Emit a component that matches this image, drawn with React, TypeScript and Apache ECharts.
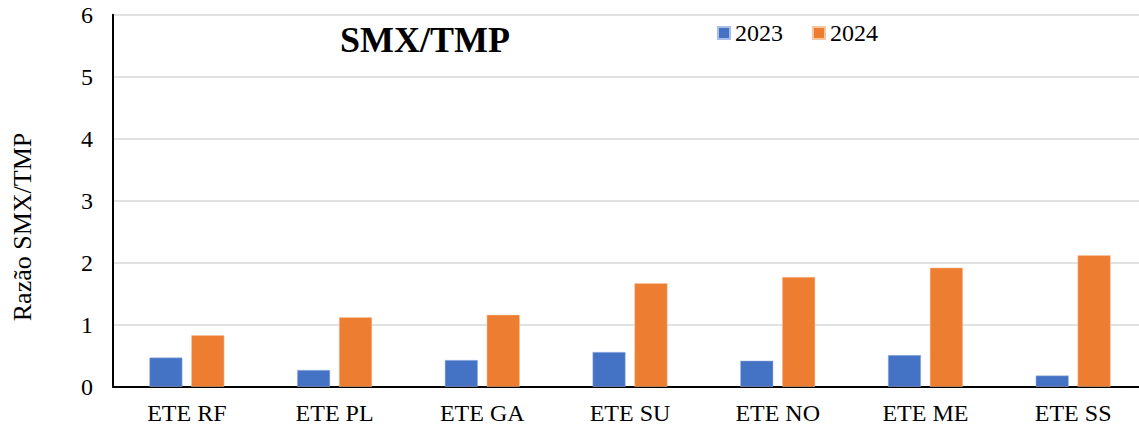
import React, { useEffect, useRef } from "react";
import * as echarts from "echarts";

// Wastewater treatment plants (ETE) and SMX/TMP ratio per year
const categories = ["ETE RF", "ETE PL", "ETE GA", "ETE SU", "ETE NO", "ETE ME", "ETE SS"];
const values2023 = [0.47, 0.27, 0.43, 0.56, 0.42, 0.51, 0.18];
const values2024 = [0.83, 1.12, 1.16, 1.67, 1.77, 1.92, 2.12];
const yTicks = { min: 0, max: 6, interval: 1 };

const SERIF = "Times New Roman";

export default function App() {
  const ref = useRef<HTMLDivElement>(null);

  useEffect(() => {
    if (!ref.current) return;
    const chart = echarts.init(ref.current, undefined, { renderer: "svg" });
    chart.setOption({
      animation: false,
      backgroundColor: "#ffffff",
      title: {
        text: "SMX/TMP",
        left: 340,
        top: 22,
        padding: 0,
        textStyle: { fontFamily: SERIF, fontSize: 36, fontWeight: "bold", color: "#000" },
      },
      legend: {
        left: 717,
        top: 21,
        padding: 0,
        itemWidth: 12,
        itemHeight: 12,
        itemGap: 29,
        icon: "rect",
        textStyle: { fontFamily: SERIF, fontSize: 24, color: "#000" },
        data: ["2023", "2024"],
      },
      // plot area runs slightly past the visible right edge
      grid: { left: 113, right: 0, top: 14.7, bottom: 45.3, containLabel: false },
      xAxis: {
        type: "category",
        data: categories,
        axisLine: { show: true, lineStyle: { color: "#000", width: 2 } },
        axisTick: { show: false },
        axisLabel: { fontFamily: SERIF, fontSize: 24, color: "#000", margin: 14, interval: 0 },
      },
      yAxis: {
        type: "value",
        min: yTicks.min,
        max: yTicks.max,
        interval: yTicks.interval,
        axisLine: { show: true, lineStyle: { color: "#000", width: 2 } },
        axisTick: { show: false },
        axisLabel: { fontFamily: SERIF, fontSize: 24, color: "#000", margin: 20 },
        splitLine: { show: true, lineStyle: { color: "#d9d9d9", width: 1.5 } },
      },
      graphic: [
        {
          type: "text",
          x: 22,
          y: 227,
          rotation: Math.PI / 2,
          style: {
            text: "Razão SMX/TMP",
            fontFamily: SERIF,
            fontSize: 26,
            fill: "#000",
            textAlign: "center",
            textVerticalAlign: "middle",
          },
        },
      ],
      series: [
        {
          name: "2023",
          type: "bar",
          data: values2023,
          barWidth: 33,
          barGap: "27%",
          itemStyle: { color: "#4472C4", borderColor: "#a9bde6", borderWidth: 0.5 },
        },
        {
          name: "2024",
          type: "bar",
          data: values2024,
          barWidth: 33,
          barGap: "27%",
          itemStyle: { color: "#ED7D31", borderColor: "#f7c4a0", borderWidth: 0.5 },
        },
      ],
    });
    return () => chart.dispose();
  }, []);

  return (
    <div
      style={{
        position: "fixed",
        left: 0,
        top: 0,
        width: 1139,
        height: 432,
        overflow: "hidden",
        background: "#fff",
      }}
    >
      <div ref={ref} style={{ width: 1147, height: 432 }} />
    </div>
  );
}
